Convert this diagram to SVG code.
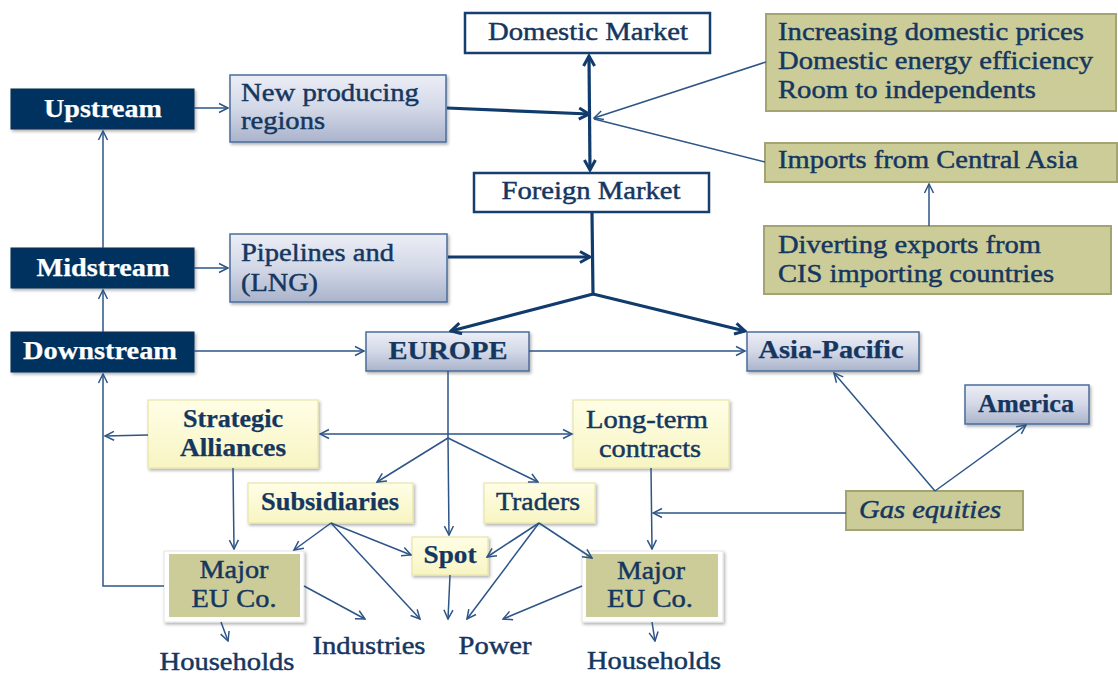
<svg xmlns="http://www.w3.org/2000/svg" width="1118" height="675" viewBox="0 0 1118 675">
  <defs>
    <linearGradient id="gBlue" x1="0" y1="0" x2="0" y2="1">
      <stop offset="0" stop-color="#eceef6"/>
      <stop offset="0.5" stop-color="#d3d8e7"/>
      <stop offset="1" stop-color="#a9b3cb"/>
    </linearGradient>
    <linearGradient id="gYellow" x1="0" y1="0" x2="0" y2="1">
      <stop offset="0" stop-color="#fffee6"/>
      <stop offset="1" stop-color="#f7f5c2"/>
    </linearGradient>
    <filter id="shadow" x="-10%" y="-10%" width="130%" height="140%">
      <feDropShadow dx="1.5" dy="2" stdDeviation="1.5" flood-color="#000" flood-opacity="0.3"/>
    </filter>
    <marker id="arr" viewBox="0 0 12 12" refX="10.5" refY="6" markerWidth="12" markerHeight="12" markerUnits="userSpaceOnUse" orient="auto-start-reverse">
      <path d="M1.5,1.5 L10.5,6 L1.5,10.5" fill="none" stroke="#2d5587" stroke-width="1.5"/>
    </marker>
    <marker id="arrB" viewBox="0 0 14 14" refX="12" refY="7" markerWidth="14" markerHeight="14" markerUnits="userSpaceOnUse" orient="auto-start-reverse">
      <path d="M2,1.5 L12,7 L2,12.5" fill="none" stroke="#113b6c" stroke-width="3" stroke-linejoin="miter"/>
    </marker>
  </defs>
  <style>
    text { font-family: "Liberation Serif", "Times New Roman", Times, serif; font-size: 24.5px; fill: #15375f; stroke: #15375f; stroke-width: 0.45px; }
    .c { text-anchor: middle; }
    .b { font-weight: bold; stroke-width: 0.25px; }
    .w { fill: #ffffff; stroke: #ffffff; stroke-width: 0.25px; font-weight: bold; }
    .dark { fill: #04325f; stroke: #0b2a50; stroke-width: 1; filter: url(#shadow); }
    .blue { fill: url(#gBlue); stroke: #4b6d9a; stroke-width: 1.5; filter: url(#shadow); }
    .plain { fill: #ffffff; stroke: #173f6e; stroke-width: 2.5; }
    .olive { fill: #cccc99; stroke: #a3a373; stroke-width: 2; }
    .yellow { fill: url(#gYellow); stroke: #e8e4ab; stroke-width: 1.2; filter: url(#shadow); }
    .frame { fill: #ffffff; stroke: #e4e4e4; stroke-width: 1; filter: url(#shadow); }
    .inner { fill: #cccc99; }
    .ln { fill: none; stroke: #2d5587; stroke-width: 1.5; }
    .lnB { fill: none; stroke: #113b6c; stroke-width: 3.2; }
  </style>

  <!-- value chain stages -->
  <g id="upstream">
    <rect class="dark" x="11" y="89" width="183" height="40"/>
    <text class="w c" x="103" y="117" textLength="118" lengthAdjust="spacingAndGlyphs">Upstream</text>
  </g>
  <g id="midstream">
    <rect class="dark" x="11" y="248" width="183" height="40"/>
    <text class="w c" x="103" y="276" textLength="133" lengthAdjust="spacingAndGlyphs">Midstream</text>
  </g>
  <g id="downstream">
    <rect class="dark" x="11" y="332" width="183" height="40"/>
    <text class="w c" x="100" y="359" textLength="154" lengthAdjust="spacingAndGlyphs">Downstream</text>
  </g>

  <g id="new-producing">
    <rect class="blue" x="230" y="75" width="216" height="67"/>
    <text x="241" y="101" textLength="178" lengthAdjust="spacingAndGlyphs">New producing</text>
    <text x="241" y="129" textLength="84" lengthAdjust="spacingAndGlyphs">regions</text>
  </g>
  <g id="pipelines">
    <rect class="blue" x="230" y="234" width="217" height="68"/>
    <text x="241" y="261" textLength="153" lengthAdjust="spacingAndGlyphs">Pipelines and</text>
    <text x="241" y="291" textLength="77" lengthAdjust="spacingAndGlyphs">(LNG)</text>
  </g>

  <g id="domestic-market">
    <rect class="plain" x="465" y="13" width="245" height="40"/>
    <text class="c" x="588" y="40" textLength="200" lengthAdjust="spacingAndGlyphs">Domestic Market</text>
  </g>
  <g id="foreign-market">
    <rect class="plain" x="474" y="173" width="235" height="39"/>
    <text class="c" x="591" y="199" textLength="179" lengthAdjust="spacingAndGlyphs">Foreign Market</text>
  </g>

  <g id="domestic-factors">
    <rect class="olive" x="766" y="14" width="350" height="97"/>
    <text x="778" y="40" textLength="306" lengthAdjust="spacingAndGlyphs">Increasing domestic prices</text>
    <text x="778" y="69" textLength="315" lengthAdjust="spacingAndGlyphs">Domestic energy efficiency</text>
    <text x="778" y="98" textLength="258" lengthAdjust="spacingAndGlyphs">Room to independents</text>
  </g>
  <g id="central-asia">
    <rect class="olive" x="765" y="143" width="352" height="39"/>
    <text x="778" y="168" textLength="300" lengthAdjust="spacingAndGlyphs">Imports from Central Asia</text>
  </g>
  <g id="diverting">
    <rect class="olive" x="764" y="226" width="347" height="68"/>
    <text x="778" y="253" textLength="263" lengthAdjust="spacingAndGlyphs">Diverting exports from</text>
    <text x="778" y="282" textLength="276" lengthAdjust="spacingAndGlyphs">CIS importing countries</text>
  </g>

  <g id="europe">
    <rect class="blue" x="366" y="332" width="163" height="39"/>
    <text class="b c" x="448" y="359" textLength="119" lengthAdjust="spacingAndGlyphs">EUROPE</text>
  </g>
  <g id="asia-pacific">
    <rect class="blue" x="747" y="332" width="172" height="39"/>
    <text class="b c" x="831" y="358" textLength="145" lengthAdjust="spacingAndGlyphs">Asia-Pacific</text>
  </g>
  <g id="america">
    <rect class="blue" x="965" y="385" width="124" height="39"/>
    <text class="b c" x="1026" y="412" textLength="96" lengthAdjust="spacingAndGlyphs">America</text>
  </g>
  <g id="gas-equities">
    <rect class="olive" x="846" y="491" width="177" height="39"/>
    <text x="859" y="518" font-style="italic" textLength="142" lengthAdjust="spacingAndGlyphs">Gas equities</text>
  </g>

  <g id="strategic-alliances">
    <rect class="yellow" x="148" y="400" width="170" height="68"/>
    <text class="b c" x="233" y="427" textLength="100" lengthAdjust="spacingAndGlyphs">Strategic</text>
    <text class="b c" x="233" y="456" textLength="106" lengthAdjust="spacingAndGlyphs">Alliances</text>
  </g>
  <g id="long-term-contracts">
    <rect class="yellow" x="573" y="400" width="156" height="68"/>
    <text class="c" x="647" y="428" textLength="122" lengthAdjust="spacingAndGlyphs">Long-term</text>
    <text class="c" x="650" y="457" textLength="102" lengthAdjust="spacingAndGlyphs">contracts</text>
  </g>
  <g id="subsidiaries">
    <rect class="yellow" x="248" y="483" width="165" height="40"/>
    <text class="b c" x="330" y="510" textLength="138" lengthAdjust="spacingAndGlyphs">Subsidiaries</text>
  </g>
  <g id="traders">
    <rect class="yellow" x="484" y="483" width="111" height="40"/>
    <text class="c" x="538" y="510" textLength="84" lengthAdjust="spacingAndGlyphs">Traders</text>
  </g>
  <g id="spot">
    <rect class="yellow" x="412" y="537" width="76" height="38"/>
    <text class="b c" x="450" y="563" textLength="53" lengthAdjust="spacingAndGlyphs">Spot</text>
  </g>

  <g id="major-eu-left">
    <rect class="frame" x="164" y="551" width="140" height="71"/>
    <rect class="inner" x="169" y="554" width="131" height="63"/>
    <text class="c" x="234" y="578" textLength="69" lengthAdjust="spacingAndGlyphs">Major</text>
    <text class="c" x="234" y="607" textLength="85" lengthAdjust="spacingAndGlyphs">EU Co.</text>
  </g>
  <g id="major-eu-right">
    <rect class="frame" x="582" y="551" width="141" height="71"/>
    <rect class="inner" x="586" y="554" width="132" height="63"/>
    <text class="c" x="651" y="579" textLength="68" lengthAdjust="spacingAndGlyphs">Major</text>
    <text class="c" x="650" y="607" textLength="86" lengthAdjust="spacingAndGlyphs">EU Co.</text>
  </g>

  <g id="end-users">
    <text class="c" x="227" y="670" textLength="135" lengthAdjust="spacingAndGlyphs">Households</text>
    <text class="c" x="369" y="654" textLength="113" lengthAdjust="spacingAndGlyphs">Industries</text>
    <text class="c" x="495" y="654" textLength="73" lengthAdjust="spacingAndGlyphs">Power</text>
    <text class="c" x="654" y="669" textLength="134" lengthAdjust="spacingAndGlyphs">Households</text>
  </g>

  <!-- connectors, drawn over the boxes so arrowheads stay visible -->
  <g id="connectors">
    <path class="ln" d="M194,108 L228,108" marker-end="url(#arr)"/>
    <path class="ln" d="M194,268 L228,268" marker-end="url(#arr)"/>
    <path class="ln" d="M103,248 L103,131" marker-end="url(#arr)"/>
    <path class="ln" d="M103,332 L103,290" marker-end="url(#arr)"/>
    <path class="ln" d="M164,586 L103,586 L103,374" marker-end="url(#arr)"/>
    <path class="ln" d="M148,435 L105,436" marker-end="url(#arr)"/>

    <path class="lnB" d="M447,108 L589,114" marker-end="url(#arrB)"/>
    <path class="lnB" d="M589,56 L590,170" marker-start="url(#arrB)" marker-end="url(#arrB)"/>
    <path class="ln" d="M766,62 L594,118" marker-end="url(#arr)"/>
    <path class="ln" d="M765,162 L594,119"/>
    <path class="ln" d="M929,226 L929,184" marker-end="url(#arr)"/>

    <path class="lnB" d="M448,257 L590,257" marker-end="url(#arrB)"/>
    <path class="lnB" d="M592,213 L593,294 L451,331" marker-end="url(#arrB)"/>
    <path class="lnB" d="M593,294 L745,331" marker-end="url(#arrB)"/>

    <path class="ln" d="M194,351 L364,351" marker-end="url(#arr)"/>
    <path class="ln" d="M529,351 L745,351" marker-end="url(#arr)"/>

    <path class="ln" d="M448,371 L448,438"/>
    <path class="ln" d="M320,434 L572,434" marker-start="url(#arr)" marker-end="url(#arr)"/>
    <path class="ln" d="M448,438 L377,482" marker-end="url(#arr)"/>
    <path class="ln" d="M448,438 L449,535" marker-end="url(#arr)"/>
    <path class="ln" d="M448,438 L538,482" marker-end="url(#arr)"/>

    <path class="ln" d="M233,468 L234,549" marker-end="url(#arr)"/>
    <path class="ln" d="M651,468 L652,549" marker-end="url(#arr)"/>

    <path class="ln" d="M331,523 L294,550" marker-end="url(#arr)"/>
    <path class="ln" d="M331,523 L411,555" marker-end="url(#arr)"/>
    <path class="ln" d="M331,523 L420,619" marker-end="url(#arr)"/>
    <path class="ln" d="M539,523 L487,557" marker-end="url(#arr)"/>
    <path class="ln" d="M539,523 L467,619" marker-end="url(#arr)"/>
    <path class="ln" d="M539,523 L592,558" marker-end="url(#arr)"/>
    <path class="ln" d="M450,575 L448,619" marker-end="url(#arr)"/>
    <path class="ln" d="M304,586 L365,619" marker-end="url(#arr)"/>
    <path class="ln" d="M582,586 L503,619" marker-end="url(#arr)"/>
    <path class="ln" d="M221,622 L228,641" marker-end="url(#arr)"/>
    <path class="ln" d="M652,622 L655,641" marker-end="url(#arr)"/>

    <path class="ln" d="M846,513 L653,513" marker-end="url(#arr)"/>
    <path class="ln" d="M935,491 L834,373" marker-end="url(#arr)"/>
    <path class="ln" d="M935,491 L1026,425" marker-end="url(#arr)"/>
  </g>
</svg>
